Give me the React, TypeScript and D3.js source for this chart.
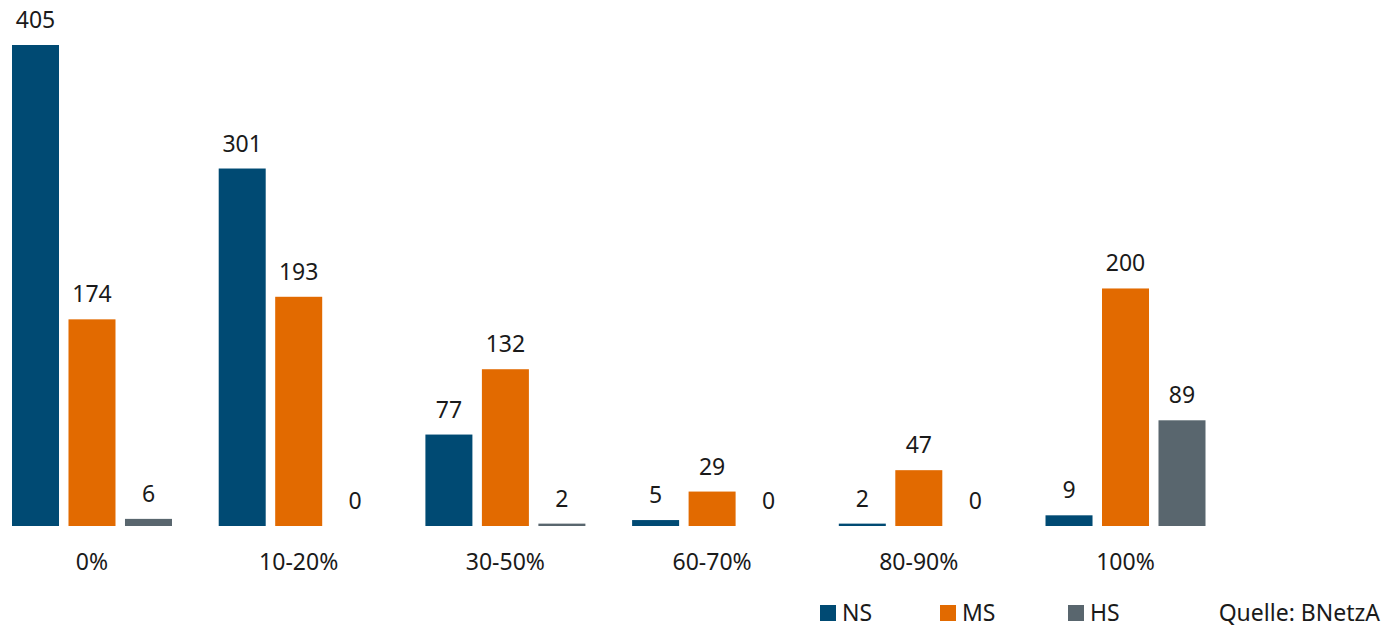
import React from "react";
import * as d3 from "d3";

const categories = ["0%", "10-20%", "30-50%", "60-70%", "80-90%", "100%"];
const seriesNames = ["NS", "MS", "HS"];
const nsValues = [405, 301, 77, 5, 2, 9];
const msValues = [174, 193, 132, 29, 47, 200];
const hsValues = [6, 0, 2, 0, 0, 89];
const seriesColors = ["#004a73", "#e26a00", "#59666e"];
const sourceText = "Quelle: BNetzA";

const W = 1388;
const H = 628;
const FONT = "'Noto Sans', 'Open Sans', sans-serif";
const TEXT = "#1a1a1a";

export default function App() {
  const values = [nsValues, msValues, hsValues];
  const x0 = d3
    .scaleBand<string>()
    .domain(categories)
    .range([12, 12 + 5 * 206.7 + 160])
    .paddingInner(0.226)
    .paddingOuter(0);
  const x1 = d3
    .scaleBand<string>()
    .domain(seriesNames)
    .range([0, x0.bandwidth()])
    .paddingInner(0.168)
    .paddingOuter(0);
  const y = d3.scaleLinear().domain([0, 405]).range([526, 45]);

  const legendX = [820, 940, 1068];

  return (
    <svg
      width={W}
      height={H}
      style={{ position: "absolute", left: 0, top: 0, background: "#fff" }}
      fontFamily={FONT}
    >
      {categories.map((cat, ci) => (
        <g key={cat} transform={`translate(${x0(cat)},0)`}>
          {seriesNames.map((s, si) => {
            const v = values[si][ci];
            const top = y(v);
            const bx = x1(s)!;
            return (
              <g key={s}>
                {v > 0 && (
                  <rect
                    x={bx}
                    y={top}
                    width={x1.bandwidth()}
                    height={y(0) - top}
                    fill={seriesColors[si]}
                  />
                )}
                <text
                  x={bx + x1.bandwidth() / 2}
                  y={top - 17}
                  textAnchor="middle"
                  fontSize={23}
                  fill={TEXT}
                >
                  {v}
                </text>
              </g>
            );
          })}
          <text
            x={x0.bandwidth() / 2}
            y={570}
            textAnchor="middle"
            fontSize={23}
            fill={TEXT}
          >
            {cat}
          </text>
        </g>
      ))}
      {seriesNames.map((s, si) => (
        <g key={s} transform={`translate(${legendX[si]},0)`}>
          <rect x={0} y={605} width={16} height={16} fill={seriesColors[si]} />
          <text x={22} y={621} fontSize={23} fill={TEXT}>
            {s}
          </text>
        </g>
      ))}
      <text x={1380} y={621} textAnchor="end" fontSize={23} fill={TEXT}>
        {sourceText}
      </text>
    </svg>
  );
}
